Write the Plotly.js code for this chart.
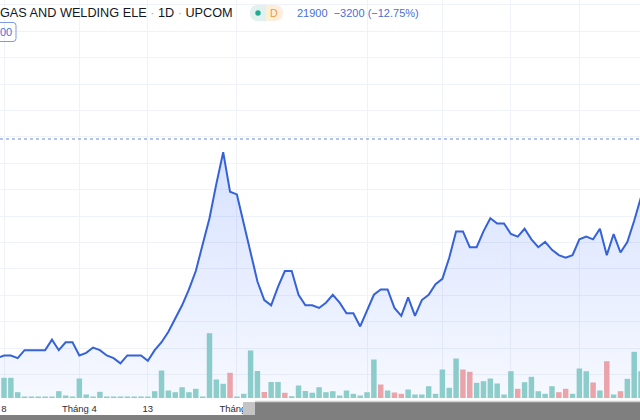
<!DOCTYPE html>
<html><head><meta charset="utf-8">
<script src="https://cdn.plot.ly/plotly-3.0.1.min.js"></script>
<style>html,body{margin:0;padding:0;background:#fff;}#chart{width:640px;height:420px;}</style>
</head><body><div id="chart"></div>
<script>
// ---- header data ----
const symbolName = 'GAS AND WELDING ELE';
const interval = '1D';
const exchange = 'UPCOM';
const lastPrice = 21900;
const change = -3200;
const changePct = -12.75;
const prevClose = lastPrice - change;

// ---- daily closes (first value is the session just left of the frame) ----
const prices = [16800,
  16900,16900,16800,17100,17100,17100,17100,17500,17100,17400,
  17400,16900,17000,17200,17100,16900,16800,16600,16900,16900,
  16900,16700,17100,17400,17800,18300,18800,19400,20100,21100,
  22100,23400,24600,23100,23000,21900,20800,19700,19000,18800,
  19500,20100,20100,19200,18800,18800,18700,18900,19200,18900,
  18500,18500,18000,18600,19200,19400,19400,18700,18400,19100,
  18400,19000,19200,19600,19800,20600,21600,21600,21000,21000,
  21600,22100,21900,21900,21500,21400,21700,21300,21000,21200,
  20900,20700,20600,20700,21300,21400,21300,21700,20700,21500,
  20800,21200,22000,22900];

// ---- daily volumes ----
const volumes = [3000,
  40400,40400,11600,3000,3000,3000,3000,3000,13600,5000,
  3000,39000,7000,3000,12400,3000,3000,3000,3000,3000,
  3000,3000,13600,55000,15000,11600,21600,11600,18400,3000,
  129600,37000,28400,50400,3000,8400,95000,54000,12000,32000,
  32000,10400,3600,25000,14000,10600,21600,11600,13600,5000,
  15000,8400,5000,11600,77000,27000,15000,11000,8400,17000,
  7000,7000,23600,8400,57000,20400,79000,57000,52400,30400,
  33600,39000,29000,7000,53600,18400,31600,42400,13600,8400,
  23600,11600,18400,8400,59000,53600,31000,15000,73600,7000,
  13600,38400,92400,53600];

// ---- candle direction for volume colouring (u = up, d = down) ----
const volDir = ['u',
  'u','u','u','u','u','u','u','u','u','u',
  'u','u','u','u','u','u','u','u','u','u',
  'u','u','u','u','u','u','u','u','u','u',
  'u','u','u','d','u','u','u','u','d','u',
  'u','d','u','u','u','u','u','u','u','u',
  'u','u','u','u','u','d','u','d','d','u',
  'u','u','u','u','u','u','u','d','d','u',
  'u','u','u','u','u','d','u','u','u','u',
  'u','d','d','u','u','u','d','u','d','u',
  'd','u','u','u'];

// ---- time axis labels ----
const tickIdx = [0, 11, 21, 34, 53, 64, 74, 84];
const tickText = ['8', 'Tháng 4', '13', 'Tháng 5', 'Tháng 6', '15', 'Tháng 7', '15'];

const xs = prices.map((_, k) => k - 1);

const W = 640, H = 420, PB = 398;
const px = v => v / W;
const py = v => (PB - v) / PB;
function rr(x0, y0, x1, y1, rl, rr_) {
  return 'M' + px(x0 + rl) + ',' + py(y0) +
    ' L' + px(x1 - rr_) + ',' + py(y0) +
    ' Q' + px(x1) + ',' + py(y0) + ' ' + px(x1) + ',' + py(y0 + rr_) +
    ' L' + px(x1) + ',' + py(y1 - rr_) +
    ' Q' + px(x1) + ',' + py(y1) + ' ' + px(x1 - rr_) + ',' + py(y1) +
    ' L' + px(x0 + rl) + ',' + py(y1) +
    ' Q' + px(x0) + ',' + py(y1) + ' ' + px(x0) + ',' + py(y1 - rl) +
    ' L' + px(x0) + ',' + py(y0 + rl) +
    ' Q' + px(x0) + ',' + py(y0) + ' ' + px(x0 + rl) + ',' + py(y0) + ' Z';
}

const priceTop = 30365, priceBot = 15289;

const traces = [
  {
    type: 'bar', x: xs, y: volumes, yaxis: 'y',
    marker: {color: volDir.map(d => d === 'd' ? '#f4a7a5' : '#91d2c8'), line: {width: 0}},
    hoverinfo: 'skip'
  },
  {
    type: 'scatter', mode: 'lines', x: xs, y: prices, yaxis: 'y2',
    line: {color: '#3562d8', width: 2},
    fill: 'tozeroy',
    fillgradient: {type: 'vertical', start: priceBot, stop: 25000,
      colorscale: [[0, 'rgba(41,98,255,0.04)'], [1, 'rgba(41,98,255,0.19)']]},
    hoverinfo: 'skip'
  }
];

const fontFam = 'Liberation Sans, Arial, sans-serif';
const sep = "<span style='color:#b2b5be'> · </span>";
const chg = change < 0 ? '\u2212' + Math.abs(change) : '+' + change;
const chgP = changePct < 0 ? '\u2212' + Math.abs(changePct).toFixed(2) : '+' + changePct.toFixed(2);

const layout = {
  width: W, height: H,
  margin: {l: 0, r: 0, t: 0, b: H - PB, pad: 0},
  paper_bgcolor: '#ffffff', plot_bgcolor: '#ffffff',
  showlegend: false,
  bargap: 0.2,
  xaxis: {
    range: [-0.584, 92.85], tickmode: 'array', tickvals: tickIdx, ticktext: tickText,
    showgrid: true, gridcolor: '#eff2f8', gridwidth: 1, zeroline: false, showline: false,
    ticks: '', ticklabelstandoff: 3, tickfont: {family: fontFam, size: 9.5, color: '#2a2e39'}
  },
  yaxis: {range: [0, 796000], showgrid: false, zeroline: false, showticklabels: false, ticks: ''},
  yaxis2: {
    overlaying: 'y', side: 'right', range: [priceBot, priceTop],
    tick0: 24180, dtick: 1000, showgrid: true, gridcolor: '#eff2f8', gridwidth: 1,
    zeroline: false, showticklabels: false, ticks: ''
  },
  shapes: [
    {type: 'line', xref: 'paper', yref: 'y2', x0: 0, x1: 1, y0: prevClose, y1: prevClose,
      line: {color: '#6b89dc', width: 1, dash: 'dot'}},
    {type: 'path', xref: 'paper', yref: 'paper', path: rr(250, 5, 266, 21, 8, 0), fillcolor: '#e1f1ee', line: {width: 0}},
    {type: 'path', xref: 'paper', yref: 'paper', path: rr(266, 5, 283, 21, 0, 8), fillcolor: '#fdefdc', line: {width: 0}},
    {type: 'circle', xref: 'paper', yref: 'paper', x0: px(255.3), x1: px(260.7), y0: py(15.7), y1: py(10.3), fillcolor: '#22ab94', line: {width: 0}},
    {type: 'path', xref: 'paper', yref: 'paper', path: rr(-4, 22.5, 16, 41.5, 3, 3), fillcolor: 'rgba(255,255,255,0)', line: {color: '#7d99e0', width: 1}},
    {type: 'rect', xref: 'paper', yref: 'paper', x0: px(255), x1: px(640), y0: py(402), y1: py(420), fillcolor: '#7f7f7f', line: {width: 0}},
    {type: 'rect', xref: 'paper', yref: 'paper', x0: px(255), x1: px(640), y0: py(400.8), y1: py(402.3), fillcolor: '#d2d2d2', line: {width: 0}},
    {type: 'rect', xref: 'paper', yref: 'paper', x0: px(0), x1: px(255), y0: py(415), y1: py(420), fillcolor: '#7f7f7f', line: {width: 0}},
    {type: 'rect', xref: 'paper', yref: 'paper', x0: px(243), x1: px(255), y0: py(402), y1: py(415), fillcolor: '#c4c4c4', line: {width: 0}}
  ],
  annotations: [
    {xref: 'paper', yref: 'paper', x: px(-2), y: py(13), xanchor: 'left', yanchor: 'middle', showarrow: false,
      text: symbolName + sep + interval + sep + exchange,
      font: {family: fontFam, size: 12.7, color: '#131722'}},
    {xref: 'paper', yref: 'paper', x: px(273.5), y: py(13), xanchor: 'center', yanchor: 'middle', showarrow: false,
      text: 'D', font: {family: fontFam, size: 10.5, color: '#f39a2c'}},
    {xref: 'paper', yref: 'paper', x: px(295), y: py(13), xanchor: 'left', yanchor: 'middle', showarrow: false,
      text: lastPrice + '  ' + chg + ' (' + chgP + '%)',
      font: {family: fontFam, size: 11, color: '#4a6fd6'}},
    {xref: 'paper', yref: 'paper', x: px(-2), y: py(32), xanchor: 'left', yanchor: 'middle', showarrow: false,
      text: String(lastPrice).slice(-2), font: {family: fontFam, size: 11, color: '#4a6fd6'}}
  ]
};

Plotly.newPlot('chart', traces, layout, {staticPlot: true, displayModeBar: false});
</script>
</body></html>
